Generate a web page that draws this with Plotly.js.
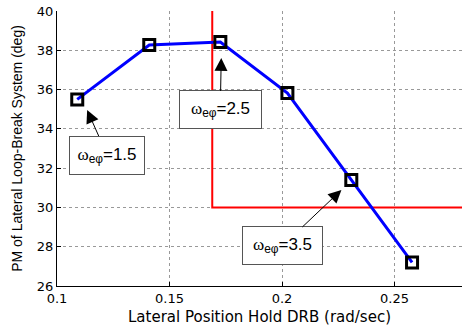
<!DOCTYPE html>
<html>
<head>
<meta charset="utf-8">
<script src="https://cdn.plot.ly/plotly-3.0.1.min.js"></script>
<style>html,body{margin:0;padding:0;background:#fff}#chart{width:463px;height:333px}</style>
</head>
<body>
<div id="chart"></div>
<script>
const drb = [0.109, 0.141, 0.1726, 0.2024, 0.2308, 0.2578];
const pm = [35.5, 38.27, 38.42, 35.82, 31.4, 27.2];
const reqX = [0.169, 0.169, 0.28];
const reqY = [40, 30, 30];
const labels = ['1.5', '2.5', '3.5'];
const labelTipX = [0.1134, 0.1730, 0.2264];
const labelTipY = [34.96, 37.61, 30.89];
const labelAx = [20, -1, -59];
const labelAy = [45, 52, 56];
const labelW = [72, 79, 77];

const font = 'Liberation Sans, Arial, sans-serif';
const wide = 'DejaVu Sans, sans-serif';

const traces = [
  {x: reqX, y: reqY, mode: 'lines', line: {color: '#ff0000', width: 2}, hoverinfo: 'skip'},
  {x: drb, y: pm, mode: 'lines+markers', line: {color: '#0000ff', width: 3},
   marker: {symbol: 'square-open', size: 11, color: '#000', line: {width: 3, color: '#000'}}}
];

const annotations = labels.map((t, i) => ({
  x: labelTipX[i], y: labelTipY[i], xref: 'x', yref: 'y',
  text: '<span style="font-family:Liberation Serif, Times New Roman, serif">ω</span><sub>eφ</sub>=' + t,
  showarrow: true, arrowhead: 2, arrowsize: 2.6, arrowwidth: 1, arrowcolor: '#000',
  ax: labelAx[i], ay: labelAy[i], standoff: 0,
  bgcolor: '#fff', bordercolor: '#555', borderwidth: 1, borderpad: 1,
  width: labelW[i], height: 35,
  font: {family: font, size: 17, color: '#000'}
}));

const layout = {
  width: 463, height: 333,
  margin: {l: 57, r: 1, t: 11, b: 47},
  showlegend: false,
  paper_bgcolor: '#fff', plot_bgcolor: '#fff',
  font: {family: wide, size: 13, color: '#000'},
  xaxis: {
    range: [0.1, 0.28], tickvals: [0.1, 0.15, 0.2, 0.25], ticktext: ['0.1', '0.15', '0.2', '0.25'],
    showline: true, linecolor: '#000', linewidth: 1,
    ticks: 'inside', ticklen: 4, tickcolor: '#000',
    showgrid: true, gridcolor: '#999', griddash: 'dot', gridwidth: 1,
    zeroline: false,
    title: {text: 'Lateral Position Hold DRB (rad/sec)', font: {family: wide, size: 15}, standoff: 6},
    tickfont: {family: wide, size: 13}
  },
  yaxis: {
    range: [26, 40], dtick: 2,
    showline: true, linecolor: '#000', linewidth: 1,
    ticks: 'inside', ticklen: 4, tickcolor: '#000',
    showgrid: true, gridcolor: '#999', griddash: 'dot', gridwidth: 1,
    zeroline: false,
    title: {text: 'PM of Lateral Loop-Break System (deg)', font: {family: font, size: 14}, standoff: 10},
    tickfont: {family: wide, size: 13}
  },
  annotations: annotations
};

Plotly.newPlot('chart', traces, layout, {displayModeBar: false, staticPlot: true});
</script>
</body>
</html>
